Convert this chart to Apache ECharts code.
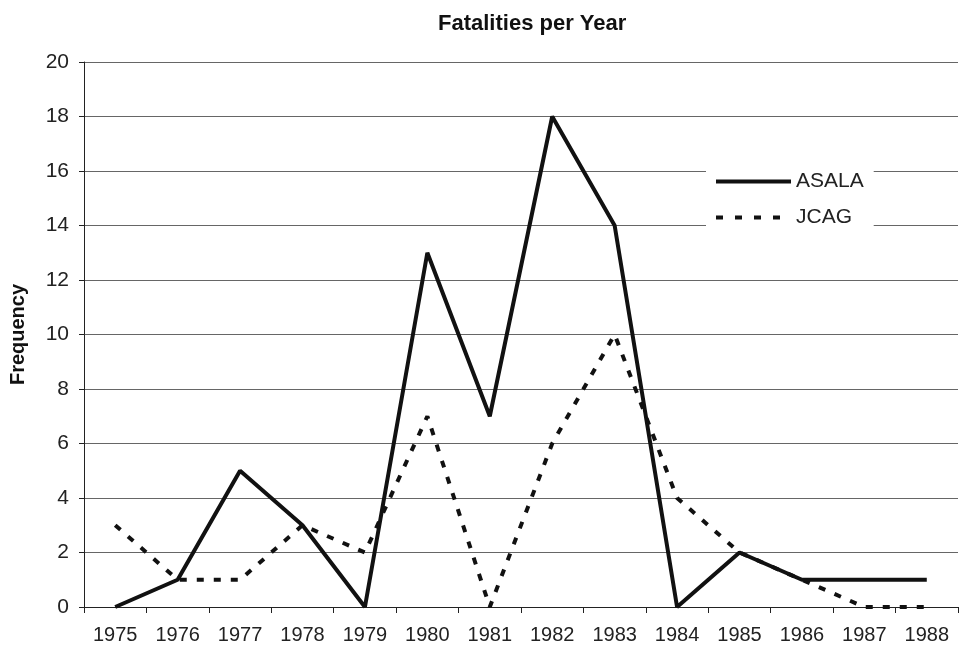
<!DOCTYPE html>
<html><head><meta charset="utf-8">
<script src="https://cdn.jsdelivr.net/npm/echarts@6/dist/echarts.min.js"></script>
<style>html,body{margin:0;padding:0;background:#fff}#c{width:959px;height:647px}</style>
</head><body><div id="c"></div>
<script>
const years = ['1975','1976','1977','1978','1979','1980','1981','1982','1983','1984','1985','1986','1987','1988'];
const asala = [0,1,5,3,0,13,7,18,14,0,2,1,1,1];
const jcag  = [3,1,1,3,2,7,0,6,10,4,2,1,0,0];
const yTicks = [0,2,4,6,8,10,12,14,16,18,20];

const chart = echarts.init(document.getElementById('c'));
const font = 'Liberation Sans, Arial, sans-serif';
chart.setOption({
  backgroundColor:'#fff',
  animation:false,
  title:{text:'Fatalities per Year',left:433,top:8,textStyle:{fontFamily:font,fontSize:22,fontWeight:'bold',color:'#111'}},
  grid:{left:84,right:1,top:62,bottom:40},
  legend:{orient:'vertical',left:706,top:163,backgroundColor:'#fff',padding:[8,10,8,8],itemGap:15,itemWidth:75,itemHeight:22,
    itemStyle:{opacity:0},
    textStyle:{fontFamily:font,fontSize:21,color:'#222'},
    data:[
      {name:'ASALA',lineStyle:{width:4,type:'solid'}},
      {name:'JCAG',lineStyle:{width:4,type:[7,12]}}
    ]},
  xAxis:{type:'category',data:years,boundaryGap:true,
    axisLine:{lineStyle:{color:'#222',width:1}},
    axisTick:{show:true,length:6,lineStyle:{color:'#222'}},
    axisLabel:{fontFamily:font,fontSize:20,color:'#222',margin:18,interval:0}},
  yAxis:{type:'value',min:0,max:20,interval:2,
    name:'Frequency',nameLocation:'middle',nameGap:56,nameRotate:90,
    nameTextStyle:{fontFamily:font,fontSize:20,fontWeight:'bold',color:'#111'},
    axisLine:{show:true,lineStyle:{color:'#222'}},
    axisTick:{show:true,length:5,lineStyle:{color:'#222'}},
    axisLabel:{fontFamily:font,fontSize:21,color:'#222',margin:15,
      formatter:v=>yTicks.includes(v)?String(v):''},
    splitLine:{show:true,lineStyle:{color:'#666',width:1}}},
  series:[
    {name:'ASALA',type:'line',data:asala,symbol:'none',lineStyle:{color:'#111',width:4,type:'solid'},itemStyle:{color:'#111'},z:3},
    {name:'JCAG',type:'line',data:jcag,symbol:'none',lineStyle:{color:'#111',width:4,type:[7,10]},itemStyle:{color:'#111'},z:2}
  ]
});
</script></body></html>
